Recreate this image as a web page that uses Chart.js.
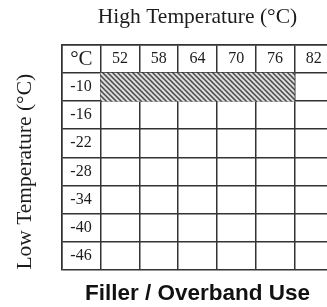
<!DOCTYPE html>
<html>
<head>
<meta charset="utf-8">
<script src="https://cdn.jsdelivr.net/npm/chart.js@4.4.1/dist/chart.umd.min.js"></script>
<style>
  html, body { margin: 0; padding: 0; background: #fff; overflow: hidden; }
</style>
</head>
<body>
<canvas id="chart" width="333" height="307"></canvas>
<script>
const highTemps = ["°C", "52", "58", "64", "70", "76", "82"];
const lowTemps = ["-10", "-16", "-22", "-28", "-34", "-40", "-46"];
const fillerRow = "-10";
const fillerCols = ["52", "58", "64", "70", "76"];

const serif = "'Liberation Serif', 'Times New Roman', serif";
const sans = "'Liberation Sans', Arial, sans-serif";
const ink = "#1c1c1c";
const rule = "#333333";

const ctx = document.getElementById("chart");

// first table row is the header, so the row axis gets an empty slot on top
const rowLabels = [""].concat(lowTemps);

// diagonal hatch for the filler cells
const hatch = (() => {
    const tile = document.createElement("canvas");
    tile.width = 5;
    tile.height = 5;
    const g = tile.getContext("2d");
    g.fillStyle = "#dcdcdc";
    g.fillRect(0, 0, 5, 5);
    g.strokeStyle = "#484848";
    g.lineWidth = 1.5;
    g.beginPath();
    g.moveTo(-1, -1); g.lineTo(6, 6);
    g.moveTo(-1, 4); g.lineTo(1, 6);
    g.moveTo(4, -1); g.lineTo(6, 1);
    g.stroke();
    return ctx.getContext("2d").createPattern(tile, "repeat");
})();

const row = rowLabels.indexOf(fillerRow);
const fillerData = highTemps.map(h => fillerCols.includes(h) ? [row, row + 1] : null);

new Chart(ctx, {
    type: "bar",
    data: {
        labels: highTemps,
        datasets: [{
            data: fillerData,
            xAxisID: "x",
            yAxisID: "rows",
            backgroundColor: hatch,
            borderWidth: 0,
            barPercentage: 1,
            categoryPercentage: 1
        }]
    },
    options: {
        responsive: false,
        animation: false,
        events: [],
        layout: {padding: 0},
        plugins: {
            legend: {display: false},
            tooltip: {enabled: false},
            title: {
                display: true,
                text: "Filler / Overband Use",
                position: "bottom",
                fullSize: false,
                color: "#111",
                font: {family: sans, size: 22.5, weight: "bold", lineHeight: 1.2},
                padding: {top: 10.4, bottom: 0}
            }
        },
        scales: {
            x: {
                type: "category",
                position: "top",
                offset: true,
                z: 1,
                grid: {offset: true, color: rule, lineWidth: 1.5, drawTicks: false},
                border: {color: rule, width: 1.5},
                ticks: {
                    mirror: true,
                    color: ink,
                    padding: 0,
                    maxRotation: 0,
                    autoSkip: false,
                    font: c => ({family: serif, size: c.index === 0 ? 21 : 16, lineHeight: "28px"})
                },
                title: {
                    display: true,
                    text: "High Temperature (°C)",
                    color: ink,
                    font: {family: serif, size: 21.5, lineHeight: 1.2},
                    padding: {top: 4.5, bottom: 14.7}
                }
            },
            y: {
                type: "category",
                labels: rowLabels,
                position: "left",
                offset: true,
                z: 1,
                grid: {offset: true, color: rule, lineWidth: 1.5, drawTicks: false},
                border: {color: rule, width: 1.5},
                ticks: {mirror: true, crossAlign: "center", padding: 8.3, color: ink, font: {family: serif, size: 16}},
                title: {
                    display: true,
                    text: "Low Temperature (°C)",
                    align: "start",
                    color: ink,
                    font: {family: serif, size: 21.5, lineHeight: 1.2},
                    padding: {top: 12.6, bottom: 7}
                }
            },
            rows: {
                type: "linear",
                position: "left",
                min: 0,
                max: rowLabels.length,
                reverse: true,
                grid: {display: false, drawTicks: false},
                border: {display: false},
                ticks: {display: false}
            }
        }
    }
});
</script>
</body>
</html>
